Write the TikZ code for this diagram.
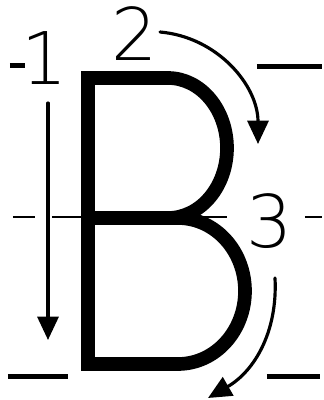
\documentclass[tikz,border=0pt]{standalone}
\usepackage{fontspec}
\newfontfamily\digitfont{DejaVu Sans ExtraLight}
\usetikzlibrary{arrows.meta}
\tikzset{
  num/.style={inner sep=0pt,font=\digitfont\fontsize{62}{62}\selectfont},
  guide/.style={line width=1.5mm,line cap=butt},
  midguide/.style={line width=0.6mm,line cap=butt},
  bstroke/.style={line width=4.1mm,line join=miter,line cap=butt},
  pen/.style={line width=0.95mm,-{Triangle[length=7mm,width=6.3mm]}},
  every picture/.style={line cap=round,line join=round}}
\begin{document}
\begin{tikzpicture}[x=0.3mm,y=0.3mm]
  \useasboundingbox (0,0) rectangle (323,400);
  % guide lines
  \draw[guide] (10,335)--(25,335) (257,334)--(322,334);
  \draw[guide] (8,24)--(68,24) (267,24)--(320,24);
  \draw[midguide] (13,183)--(35,183) (52,183)--(82,183) (190,183)--(227,183) (305,183)--(322,183);
  % the letter
  \draw[bstroke] (88,182)--(178,182) arc[start angle=90,end angle=-90,x radius=67,y radius=73]
    --(88,36)--(88,322)--(168,322) arc[start angle=90,end angle=-90,x radius=59,y radius=70]--(88,182);
  % stroke order
  \node[num] (n1) at (45,342) {1}; \node[num] (n2) at (135,366) {2}; \node[num] (n3) at (270,179) {3};
  \coordinate (s1) at (48,297); \coordinate (e1) at (48,60);
  \coordinate (s2) at (160,368); \coordinate (e2) at (258,256);
  \coordinate (s3) at (275,122); \coordinate (e3) at (208,2);
  \draw[pen] (s1)--(e1);
  \draw[pen] (s2) to[out=-5,in=90] (e2);
  \draw[pen] (s3) to[out=-87,in=30] (e3);
\end{tikzpicture}
\end{document}
